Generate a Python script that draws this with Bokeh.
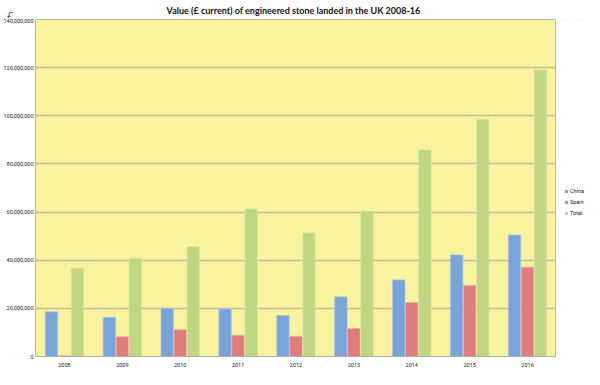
from bokeh.plotting import figure
from bokeh.layouts import column, row
from bokeh.models import (ColumnDataSource, FactorRange, Range1d, NumeralTickFormatter,
                          Legend, LegendItem, Label, FixedTicker)
from bokeh.transform import dodge
from bokeh.embed import file_html
from bokeh.resources import INLINE

years = ["2008", "2009", "2010", "2011", "2012", "2013", "2014", "2015", "2016"]
china = [18.6e6, 16.3e6, 20.0e6, 19.7e6, 17.0e6, 24.8e6, 31.8e6, 42.2e6, 50.5e6]
spain = [0.3e6, 8.2e6, 11.1e6, 8.8e6, 8.4e6, 11.6e6, 22.4e6, 29.5e6, 37.1e6]
total = [36.7e6, 40.8e6, 45.6e6, 61.3e6, 51.3e6, 60.4e6, 85.8e6, 98.6e6, 119.0e6]
y_ticks = [0, 20e6, 40e6, 60e6, 80e6, 100e6, 120e6, 140e6]
series = ["China", "Spain", "Total"]
title_text = "Value (£ current) of engineered stone landed in the UK 2008-16"

fills = ["#79a4d9", "#e27b7b", "#bfd785"]
edges = ["#a9c6ec", "#f4a8a8", "#d6e6a8"]

src = ColumnDataSource(dict(year=years, China=china, Spain=spain, Total=total))
small_font = "Roboto"

# ---- header (the £ sign and the title) ----
header = figure(width=584, height=18, x_range=Range1d(0, 1), y_range=Range1d(0, 1),
                x_axis_type=None, y_axis_type=None, output_backend="svg",
                toolbar_location=None, min_border=0)
header.outline_line_color = None
header.xgrid.grid_line_color = None
header.ygrid.grid_line_color = None
header.add_layout(Label(x=6, y=3, x_units="screen", y_units="screen", text="£",
                        text_font="Open Sans", text_font_style="italic",
                        text_font_size="11px", text_color="#7a1c1c",
                        text_baseline="alphabetic"))
header.add_layout(Label(x=293, y=8, x_units="screen", y_units="screen", text=title_text,
                        text_font="Lato", text_font_style="bold", text_font_size="9px",
                        text_color="#111111", text_align="center",
                        text_baseline="alphabetic"))

# ---- main chart ----
chart = figure(width=556, height=351, x_range=FactorRange(*years), y_range=Range1d(0, 140e6),
               output_backend="svg", toolbar_location=None,
               min_border_left=28, min_border_right=0, min_border_top=1, min_border_bottom=0)
chart.background_fill_color = "#f9f39d"
chart.border_fill_color = "white"
chart.outline_line_color = "#b8b8a8"
chart.outline_line_width = 1

w = 0.215
offsets = [-0.225, 0.0, 0.225]
for name, off, fc, lc in zip(series, offsets, fills, edges):
    chart.vbar(x=dodge("year", off, range=chart.x_range), top=name, width=w, source=src,
               fill_color=fc, line_color=lc, line_width=0.8)

chart.yaxis.ticker = FixedTicker(ticks=y_ticks)
chart.yaxis.formatter = NumeralTickFormatter(format="0,0")
chart.yaxis.major_label_text_font_size = "5.5px"
chart.yaxis.major_label_text_font = small_font
chart.yaxis.major_label_text_color = "#222222"
chart.yaxis.axis_line_color = None
chart.yaxis.major_tick_line_color = None
chart.yaxis.minor_tick_line_color = None
chart.yaxis.major_tick_out = 0
chart.yaxis.major_tick_in = 0
chart.yaxis.minor_tick_out = 0
chart.yaxis.major_label_standoff = 2

chart.xaxis.major_label_text_font_size = "5.5px"
chart.xaxis.major_label_text_font = small_font
chart.xaxis.major_label_text_color = "#222222"
chart.xaxis.axis_line_color = "#b0b0a0"
chart.xaxis.major_tick_line_color = None
chart.xaxis.major_tick_out = 0
chart.xaxis.major_tick_in = 0
chart.xaxis.minor_tick_out = 0
chart.xaxis.major_label_standoff = 6
chart.xaxis.axis_label_standoff = 0

chart.xgrid.grid_line_color = None
chart.ygrid.grid_line_color = "#c4bc9c"
chart.ygrid.grid_line_width = 1.5

# ---- legend panel to the right of the plot area ----
# (legend swatches: zero-height bars that sit far outside this panel's visible range)
leg = figure(width=28, height=351, x_range=FactorRange(*years), y_range=Range1d(0, 1),
             x_axis_type=None, y_axis_type=None, output_backend="svg",
             toolbar_location=None, min_border=0)
leg.outline_line_color = None
leg.xgrid.grid_line_color = None
leg.ygrid.grid_line_color = None
items = []
for name, fc in zip(series, fills):
    r = leg.vbar(x="year", top=name, bottom=name, width=0.1, source=src,
                 fill_color=fc, line_color=None)
    items.append(LegendItem(label=name, renderers=[r]))
legend = Legend(items=items, label_text_font_size="5.5px", label_text_font=small_font,
                label_text_color="#222222",
                glyph_width=4, glyph_height=4, label_standoff=2, spacing=3,
                label_width=14, label_height=8,
                border_line_color=None, background_fill_alpha=0,
                padding=0, margin=0, location=(8, 139))
leg.add_layout(legend)

p = column(header, row(chart, leg, spacing=0), spacing=0)

open("out.html", "w").write(file_html(p, INLINE))
